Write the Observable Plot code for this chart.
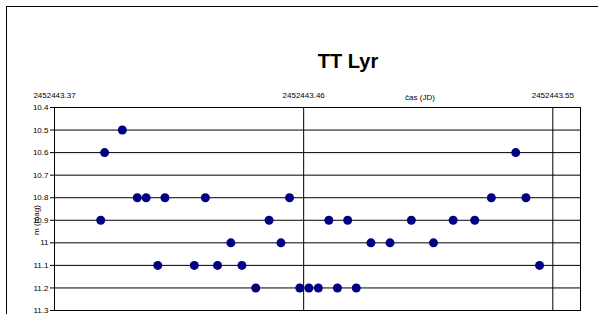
<!DOCTYPE html>
<html>
<head>
<meta charset="utf-8">
<script src="https://cdn.jsdelivr.net/npm/d3@7"></script>
<script src="https://cdn.jsdelivr.net/npm/@observablehq/plot@0.6"></script>
<style>
  html, body { margin: 0; padding: 0; background: #fff; }
  #wrap { position: relative; width: 598px; height: 314px; overflow: hidden; background: #fff; font-family: "Liberation Sans", Arial, sans-serif; }
  #chart { position: absolute; left: 0; top: 0; }
  #frame { position: absolute; left: 6px; top: 6px; width: 700px; height: 400px; border: 1px solid #000; pointer-events: none; }
  .lbl { position: absolute; white-space: nowrap; color: #000; }
  #title { left: 348px; top: 50px; transform: translateX(-50%); font-size: 20px; font-weight: bold; line-height: 22px; }
  #xlabel { left: 420px; top: 93px; transform: translateX(-50%); font-size: 8px; line-height: 10px; }
  #ylabel { left: 37px; top: 220px; transform: translate(-50%, -50%) rotate(-90deg); font-size: 8px; line-height: 10px; }
</style>
</head>
<body>
<div id="wrap">
  <div id="chart"></div>
  <div id="title" class="lbl">TT Lyr</div>
  <div id="xlabel" class="lbl">čas (JD)</div>
  <div id="ylabel" class="lbl">m (mag)</div>
  <div id="frame"></div>
</div>
<script>
const jd = [
  2452443.3867, 2452443.3881, 2452443.3945, 2452443.3999, 2452443.4031,
  2452443.4073, 2452443.4099, 2452443.4205, 2452443.4245, 2452443.4289,
  2452443.4337, 2452443.4377, 2452443.4427, 2452443.4475, 2452443.4518,
  2452443.4549, 2452443.4586, 2452443.4619, 2452443.4653, 2452443.4691,
  2452443.4722, 2452443.4759, 2452443.4790, 2452443.4843, 2452443.4912,
  2452443.4989, 2452443.5069, 2452443.5140, 2452443.5218, 2452443.5278,
  2452443.5366, 2452443.5403, 2452443.5452
];
const mag = [
  10.9, 10.6, 10.5, 10.8, 10.8,
  11.1, 10.8, 11.1, 10.8, 11.1,
  11.0, 11.1, 11.2, 10.9, 11.0,
  10.8, 11.2, 11.2, 11.2, 10.9,
  11.2, 10.9, 11.2, 11.0, 11.0,
  10.9, 11.0, 10.9, 10.9, 10.8,
  10.6, 10.8, 11.1
];
const xTicks = [2452443.37, 2452443.46, 2452443.55];
const xTickLabels = ["2452443.37", "2452443.46", "2452443.55"];
const xDomain = [2452443.37, 2452443.56];
const yTicks = [10.4, 10.5, 10.6, 10.7, 10.8, 10.9, 11.0, 11.1, 11.2, 11.3];
const yTickLabels = ["10.4", "10.5", "10.6", "10.7", "10.8", "10.9", "11", "11.1", "11.2", "11.3"];
const yDomain = [10.4, 11.3];

const data = jd.map((t, i) => ({t, m: mag[i]}));

const plot = Plot.plot({
  width: 598,
  height: 314,
  marginLeft: 54,
  marginRight: 18,
  marginTop: 107,
  marginBottom: 4,
  style: {background: "transparent", fontFamily: "Liberation Sans, Arial, sans-serif", fontSize: "8px", color: "#000"},
  x: {domain: xDomain},
  y: {domain: yDomain, reverse: true},
  marks: [
    Plot.gridY(yTicks, {stroke: "#000", strokeOpacity: 1, strokeWidth: 1}),
    Plot.ruleX(xTicks.slice(1), {stroke: "#000", strokeWidth: 1}),
    Plot.frame({stroke: "#000", strokeWidth: 1}),
    Plot.axisY({ticks: yTicks, tickFormat: (d, i) => yTickLabels[i], tickSize: 4, tickPadding: 2, label: null, fontSize: 8}),
    Plot.axisX({anchor: "top", ticks: xTicks, tickFormat: (d, i) => xTickLabels[i], tickSize: 0, tickPadding: 10, label: null, fontSize: 8}),
    Plot.dot(data, {x: "t", y: "m", r: 4.5, fill: "#000080", stroke: "none"})
  ]
});
document.getElementById("chart").appendChild(plot);
</script>
</body>
</html>
